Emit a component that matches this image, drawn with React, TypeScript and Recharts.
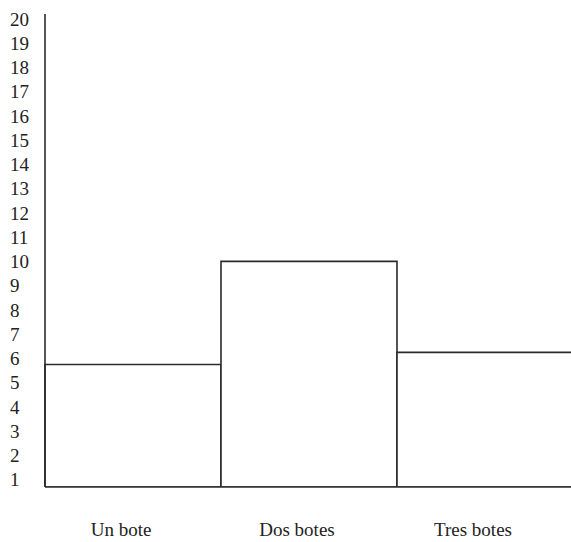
import { Bar, BarChart, XAxis, YAxis } from "recharts";

const categories = ["Un bote", "Dos botes", "Tres botes"];
const counts = [5.75, 10, 6.25];
const yTicks = [1, 2, 3, 4, 5, 6, 7, 8, 9, 10, 11, 12, 13, 14, 15, 16, 17, 18, 19, 20];

const data = categories.map((name, i) => ({ name, count: counts[i] }));

const ink = "#2b2b2b";
const font = "'Liberation Serif', 'Times New Roman', serif";

function YTick({ y, payload }: any) {
  return (
    <text x={10} y={y} dy="0.35em" textAnchor="start" fill="#222" fontSize={19} fontFamily={font}>
      {payload.value}
    </text>
  );
}

function XTick({ x, y, payload }: any) {
  return (
    <text x={x - 12} y={y + 34} dy="0.35em" textAnchor="middle" fill="#222" fontSize={19} fontFamily={font}>
      {payload.value}
    </text>
  );
}

export default function App() {
  return (
    <div style={{ position: "absolute", left: 0, top: 0, width: 571, height: 542, overflow: "hidden", background: "#fff" }}>
      <BarChart
        width={600}
        height={542}
        data={data}
        margin={{ top: 14, right: 27, left: 0, bottom: 0 }}
        barCategoryGap={0}
      >
        <XAxis
          dataKey="name"
          height={55}
          axisLine={{ stroke: ink, strokeWidth: 1.6 }}
          tickLine={false}
          tick={<XTick />}
          interval={0}
        />
        <YAxis
          type="number"
          domain={[0.7, 20.2]}
          ticks={yTicks}
          width={45}
          axisLine={{ stroke: ink, strokeWidth: 1.6 }}
          tickLine={false}
          tick={<YTick />}
          interval={0}
          allowDataOverflow
        />
        <Bar dataKey="count" fill="#fff" stroke={ink} strokeWidth={1.6} isAnimationActive={false} />
      </BarChart>
    </div>
  );
}
